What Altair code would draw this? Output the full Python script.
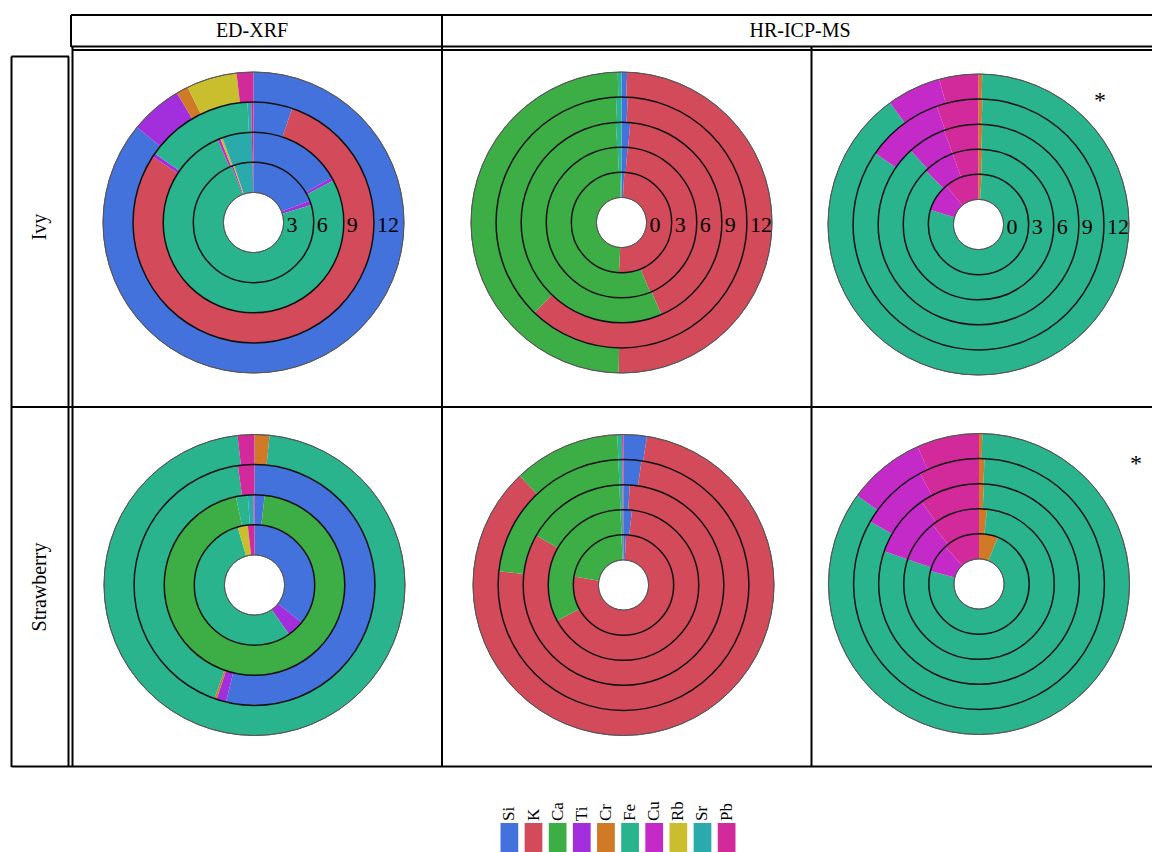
import math
import altair as alt
import pandas as pd

# ---------------------------------------------------------------- data
ELEMENTS = ["Si", "K", "Ca", "Ti", "Cr", "Fe", "Cu", "Rb", "Sr", "Pb"]
COLORS = ["#4372DD", "#D34A5A", "#3DAE46", "#A32EDB", "#D07A28",
          "#2AB48E", "#C42AC8", "#C8BE2E", "#2AAAAA", "#D22A9A"]

XRF_RINGS = ["3", "6", "9", "12"]
ICP_RINGS = ["0", "3", "6", "9", "12"]

# ED-XRF, ivy (% of detected signal per sampling ring)
xrf_ivy = {
    "Si": [19.1, 16.7, 5.2, 85.9],
    "K":  [0, 0, 79.0, 0],
    "Ti": [1.2, 0.6, 0.5, 5.6],
    "Cr": [0, 0, 0, 1.3],
    "Fe": [73.8, 76.2, 14.5, 0],
    "Cu": [0.4, 0.5, 0, 0],
    "Rb": [0.3, 0.4, 0, 5.4],
    "Sr": [5.0, 5.3, 0.5, 0],
    "Pb": [0.2, 0.3, 0.3, 1.8],
}
# ED-XRF, strawberry
xrf_straw = {
    "Si": [35.7, 1.8, 53.8, 0],
    "Ca": [0, 94.9, 0, 0],
    "Ti": [4.6, 0, 1.3, 0],
    "Cr": [0, 0, 0.3, 1.6],
    "Fe": [55.2, 2.1, 42.4, 96.6],
    "Rb": [2.7, 0, 0, 0],
    "Sr": [0, 1.0, 0, 0],
    "Pb": [1.8, 0.2, 2.2, 1.8],
}
# HR-ICP-MS, ivy, major elements
icp_ivy_major = {
    "Si": [0.9, 1.3, 1.4, 0.8, 0.6],
    "K":  [49.9, 42.5, 42.1, 61.4, 49.7],
    "Ca": [48.7, 55.4, 55.6, 37.1, 49.3],
    "Fe": [0.5, 0.8, 0.9, 0.7, 0.4],
}
# HR-ICP-MS, ivy, trace elements
icp_ivy_trace = {
    "Cr": [1.0, 0.8, 0.6, 0.5, 0.4],
    "Fe": [78.7, 86.9, 87.6, 84.1, 89.6],
    "Cu": [9.2, 6.7, 6.2, 10.0, 5.8],
    "Pb": [11.1, 5.6, 5.6, 5.4, 4.2],
}
# HR-ICP-MS, strawberry, major elements
icp_straw_major = {
    "Si": [0.8, 1.8, 1.0, 2.3, 2.5],
    "K":  [76.9, 65.3, 82.2, 74.45, 85.4],
    "Ca": [21.65, 32.25, 16.15, 22.6, 11.45],
    "Fe": [0.5, 0.5, 0.5, 0.5, 0.5],
    "Pb": [0.15, 0.15, 0.15, 0.15, 0.15],
}
# HR-ICP-MS, strawberry, trace elements
icp_straw_trace = {
    "Cr": [6.1, 1.7, 0.8, 0.7, 0.35],
    "Fe": [73.1, 78.6, 79.5, 82.6, 84.65],
    "Cu": [9.1, 9.1, 10.0, 8.9, 8.3],
    "Pb": [11.7, 10.6, 9.7, 7.8, 6.7],
}

# ---------------------------------------------------------------- layout
W, H = 1152, 852
R_OUTER = 150.5
SERIF = "Liberation Serif"

PANELS = [
    # data, ring names, centre, ring labels shown, asterisk position
    dict(data=xrf_ivy, rings=XRF_RINGS, c=(253.5, 222.5), labels=True, star=None),
    dict(data=icp_ivy_major, rings=ICP_RINGS, c=(621.5, 222.5), labels=True, star=None),
    dict(data=icp_ivy_trace, rings=ICP_RINGS, c=(978.5, 224.5), labels=True, star=(1100, 101)),
    dict(data=xrf_straw, rings=XRF_RINGS, c=(254.5, 585), labels=False, star=None),
    dict(data=icp_straw_major, rings=ICP_RINGS, c=(623.5, 585), labels=False, star=None),
    dict(data=icp_straw_trace, rings=ICP_RINGS, c=(979, 584), labels=False, star=(1136, 464)),
]

THETA = alt.Scale(domain=[0, 1], range=[0, 2 * math.pi])
RADIUS = alt.Scale(type="linear", domain=[0, 1], range=[0, R_OUTER], zero=True)
COLOR = alt.Scale(domain=ELEMENTS, range=COLORS)


def ring_table(data, rings):
    n = len(rings)
    rows = []
    for k, ring in enumerate(rings):
        for order, el in enumerate(ELEMENTS):
            vals = data.get(el)
            if vals is None or vals[k] <= 0:
                continue
            rows.append(dict(ring=ring, element=el, order=order, value=vals[k],
                             r0=(k + 1) / (n + 1), r1=(k + 2) / (n + 1)))
    return pd.DataFrame(rows)


layers = []
for p in PANELS:
    cx, cy = p["c"]
    n = len(p["rings"])
    df = ring_table(p["data"], p["rings"])

    slices = alt.Chart(df).transform_stack(
        stack="value", groupby=["ring"], as_=["t0", "t1"], offset="normalize",
        sort=[alt.SortField("order", order="ascending")],
    ).mark_arc().encode(
        theta=alt.Theta("t0:Q", scale=THETA, stack=False),
        theta2="t1:Q",
        radius=alt.Radius("r0:Q", scale=RADIUS),
        radius2="r1:Q",
        color=alt.Color("element:N", scale=COLOR, legend=None),
        x=alt.value(cx), y=alt.value(cy),
    )
    layers.append(slices)

    # ring separators and outer / inner edges
    inner_b = pd.DataFrame({"b": [(k + 2) / (n + 1) for k in range(n - 1)]})
    edge_b = pd.DataFrame({"b": [1 / (n + 1), 1.0]})
    for frame, col, sw in [(edge_b, "#555555", 0.9), (inner_b, "#111111", 1.5)]:
        layers.append(
            alt.Chart(frame).mark_arc(fillOpacity=0, stroke=col, strokeWidth=sw).encode(
                theta=alt.value(0), theta2=alt.value(2 * math.pi),
                radius=alt.Radius("b:Q", scale=RADIUS), radius2="b:Q",
                x=alt.value(cx), y=alt.value(cy),
            )
        )

    if p["labels"]:
        lab = pd.DataFrame({"ring": p["rings"],
                            "r0": [(k + 1) / (n + 1) for k in range(n)]})
        layers.append(
            alt.Chart(lab).mark_text(align="left", baseline="middle", font=SERIF,
                                     fontSize=22, dx=3, dy=2, color="black").encode(
                text="ring:N",
                radius=alt.Radius("r0:Q", scale=RADIUS),
                theta=alt.value(math.pi / 2),
                x=alt.value(cx), y=alt.value(cy),
            )
        )
    if p["star"]:
        sx, sy = p["star"]
        layers.append(
            alt.Chart(pd.DataFrame({"t": ["*"]})).mark_text(
                font=SERIF, fontSize=24, baseline="middle", align="center", color="black"
            ).encode(text="t:N", x=alt.value(sx), y=alt.value(sy))
        )

# ---------------------------------------------------------------- table frame
grid = pd.DataFrame([
    (71, 15, 1152, 15), (71, 15, 71, 47), (442, 15, 442, 47),
    (71, 46.5, 1152, 46.5), (73, 50, 1152, 50),
    (11.5, 56.5, 69, 56.5),
    (11.5, 56.5, 11.5, 767), (68.5, 56.5, 68.5, 767), (72.5, 46.5, 72.5, 767),
    (442, 46.5, 442, 767), (811.5, 46.5, 811.5, 767),
    (11.5, 407, 1152, 407), (11.5, 766.5, 1152, 766.5),
], columns=["x1", "y1", "x2", "y2"])
layers.append(
    alt.Chart(grid).mark_rule(color="black", strokeWidth=2).encode(
        x=alt.X("x1:Q", scale=None), y=alt.Y("y1:Q", scale=None),
        x2="x2:Q", y2="y2:Q",
    )
)

HEADERS = [("ED-XRF", 252, 31), ("HR-ICP-MS", 800, 31)]
for txt, hx, hy in HEADERS:
    layers.append(
        alt.Chart(pd.DataFrame({"t": [txt]})).mark_text(
            font=SERIF, fontSize=20, baseline="middle", align="center", color="black"
        ).encode(text="t:N", x=alt.value(hx), y=alt.value(hy))
    )

ROW_LABELS = [("Ivy", 40, 227), ("Strawberry", 40, 587)]
for txt, rx, ry in ROW_LABELS:
    layers.append(
        alt.Chart(pd.DataFrame({"t": [txt]})).mark_text(
            font=SERIF, fontSize=20, baseline="middle", align="center", angle=270,
            color="black"
        ).encode(text="t:N", x=alt.value(rx), y=alt.value(ry))
    )

# ---------------------------------------------------------------- colour key
key = pd.DataFrame({"element": ELEMENTS})
KEY_X = alt.X("element:N", axis=None, sort=ELEMENTS,
              scale=alt.Scale(type="band", domain=ELEMENTS, range=[500.5, 735.5],
                              paddingInner=0.265, paddingOuter=0))
layers.append(
    alt.Chart(key).mark_rect().encode(
        x=KEY_X, y=alt.value(823), y2=alt.value(852),
        color=alt.Color("element:N", scale=COLOR, legend=None),
    )
)
layers.append(
    alt.Chart(key).mark_text(font=SERIF, fontSize=17, angle=270, align="left",
                             baseline="middle", color="black").encode(
        x=KEY_X, y=alt.value(821), text="element:N",
    )
)

chart = alt.layer(*layers).resolve_scale(
    x="independent", y="independent"
).properties(
    width=W, height=H, padding=0, autosize=alt.AutoSizeParams(type="none"),
    background="white",
).configure_view(stroke=None)

chart.save("out.html", embed_options={"renderer": "svg", "actions": False})
